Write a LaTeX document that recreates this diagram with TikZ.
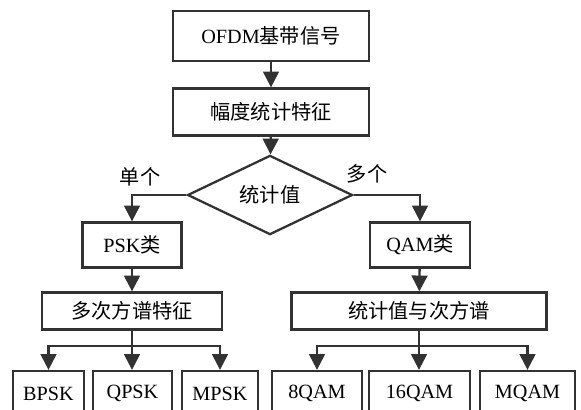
\documentclass[tikz,border=0pt]{standalone}
\usepackage{fontspec}
\setmainfont{Liberation Serif}
\newfontfamily\cjk{Noto Sans CJK SC}
\usetikzlibrary{positioning, arrows.meta, shapes.geometric, shadows}

\definecolor{linegray}{RGB}{50,50,50}

\begin{document}
\begin{tikzpicture}[x=0.02cm, y=-0.02cm,
    font=\fontsize{11.5}{13}\selectfont,
    box/.style={draw=linegray, line width=1.3pt, fill=white, inner sep=0pt,
        drop shadow={shadow xshift=0.8pt, shadow yshift=-0.8pt, opacity=0.3, fill=gray}},
    decide/.style={diamond, draw=linegray, line width=1.3pt, fill=white, inner sep=0pt,
        minimum width=3.3cm, minimum height=1.32cm},
    arr/.style={draw=linegray, line width=1.3pt, -{Triangle[width=9pt, length=9pt]}},
    lin/.style={draw=linegray, line width=1.3pt}]
    \clip (0,0) rectangle (581,409);
    \fill[white] (0,0) rectangle (581,409);
    % top of the chart
    \node[box, minimum width=3.92cm, minimum height=1.0cm] (ofdm) at (271,36) {OFDM{\cjk 基带信号}};
    \node[box, minimum width=3.92cm, minimum height=0.94cm] (amp) at (271,112) {\cjk 幅度统计特征};
    \node[decide] (stat) at (270,195) {\cjk 统计值};
    \node (one) at (140,177) {\cjk 单个};
    \node (many) at (367,174) {\cjk 多个};
    % two classes
    \node[box, minimum width=1.98cm, minimum height=0.9cm] (psk) at (132,245) {PSK{\cjk 类}};
    \node[box, minimum width=2.0cm, minimum height=0.9cm] (qam) at (420,245) {QAM{\cjk 类}};
    \node[box, minimum width=3.6cm, minimum height=0.74cm] (hos) at (132,311) {\cjk 多次方谱特征};
    \node[box, minimum width=5.1cm, minimum height=0.74cm] (mix) at (419,311) {\cjk 统计值与次方谱};
    % bottom row
    \node[box, minimum width=1.42cm, minimum height=0.9cm] (bpsk) at (48.5,393.5) {BPSK};
    \node[box, minimum width=1.58cm, minimum height=0.9cm] (qpsk) at (132.5,393.5) {QPSK};
    \node[box, minimum width=1.52cm, minimum height=0.9cm] (mpsk) at (220,393.5) {MPSK};
    \node[box, minimum width=1.8cm, minimum height=0.9cm] (qam8) at (317,393.5) {8QAM};
    \node[box, minimum width=2.02cm, minimum height=0.9cm] (qam16) at (419.5,393.5) {16QAM};
    \node[box, minimum width=1.9cm, minimum height=0.9cm] (mqam) at (527.5,393.5) {MQAM};
    \coordinate (busL) at (132,346);
    \coordinate (busR) at (419,346);
    % connectors
    \draw[arr] (ofdm) -- (amp);
    \draw[arr] (amp) -- (stat);
    \draw[arr] (stat.west) -| (psk.north);
    \draw[arr] (stat.east) -| (qam.north);
    \draw[arr] (psk) -- (hos);
    \draw[arr] (qam) -- (mix);
    \draw[lin] (hos.south) -- (busL);
    \draw[lin] (mix.south) -- (busR);
    \draw[arr] (busL) -| (bpsk.north);
    \draw[arr] (busL) -- (qpsk.north -| busL);
    \draw[arr] (busL) -| (mpsk.north);
    \draw[arr] (busR) -| (qam8.north);
    \draw[arr] (busR) -- (qam16.north -| busR);
    \draw[arr] (busR) -| (mqam.north);
\end{tikzpicture}
\end{document}
